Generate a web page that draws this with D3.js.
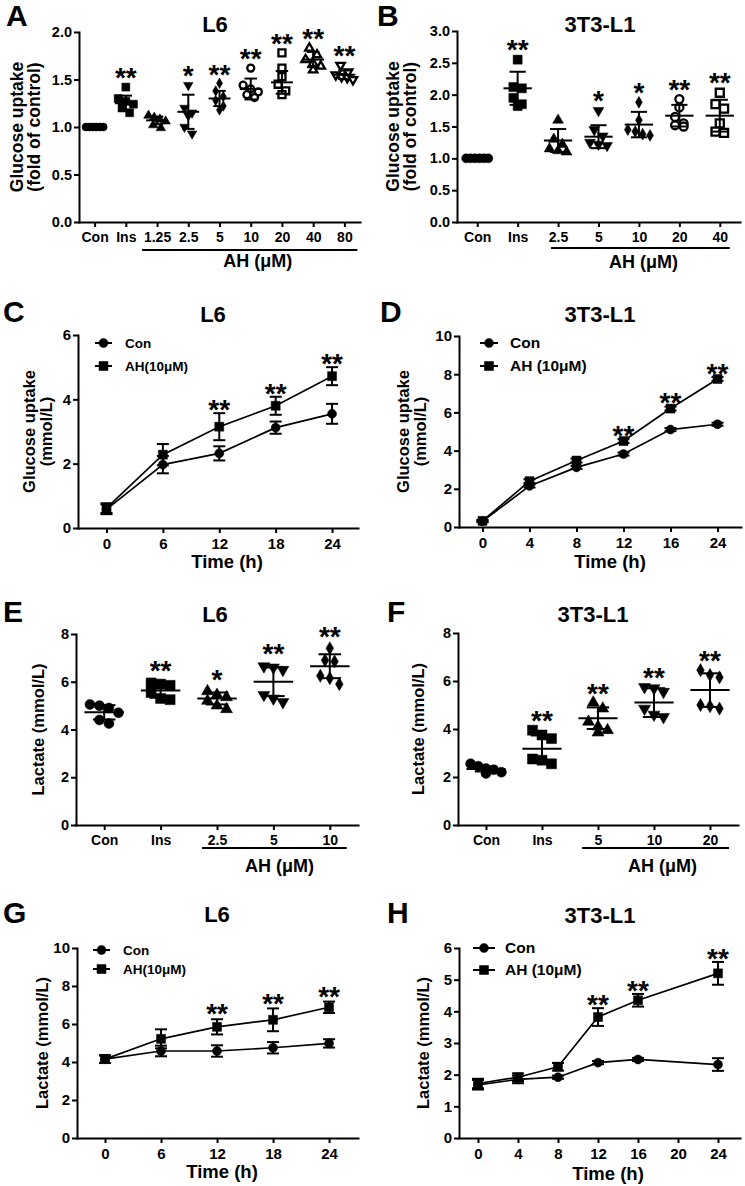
<!DOCTYPE html>
<html><head><meta charset="utf-8">
<script src="https://cdn.jsdelivr.net/npm/d3@7"></script>
<style>
body{margin:0;background:#fff}
svg{display:block}
text{font-family:"Liberation Sans",Arial,Helvetica,sans-serif;font-weight:bold;fill:#000}
</style>
</head><body>
<svg id="c" width="745" height="1186"></svg>
<script>
// ---------------- DATA ----------------
// Panel A: L6 glucose uptake (fold of control)
const aCats = ["Con","Ins","1.25","2.5","5","10","20","40","80"];
const aPoints = [
  [1.0,1.0,1.0,1.0,1.0,1.0],
  [1.42,1.30,1.27,1.24,1.20,1.15],
  [1.12,1.10,1.08,1.06,1.02,0.99],
  [1.44,1.20,1.15,1.12,1.00,0.93],
  [1.46,1.38,1.32,1.28,1.22,1.18],
  [1.62,1.44,1.40,1.37,1.34,1.31],
  [1.78,1.62,1.53,1.45,1.38,1.34],
  [1.83,1.76,1.71,1.67,1.64,1.60],
  [1.65,1.58,1.55,1.53,1.52,1.50]
];
const aMean = [1.0,1.25,1.07,1.16,1.30,1.40,1.47,1.71,1.55];
const aSD = [0.005,0.08,0.04,0.18,0.08,0.11,0.12,0.08,0.045];
const aStars = ["","**","","*","**","**","**","**","**"];
const aYTicks = [0,0.5,1.0,1.5,2.0];

// Panel B: 3T3-L1 glucose uptake (fold of control)
const bCats = ["Con","Ins","2.5","5","10","20","40"];
const bPoints = [
  [1.0,1.0,1.0,1.0,1.0,1.0],
  [2.55,2.12,2.10,1.95,1.85,1.82],
  [1.60,1.30,1.22,1.15,1.12,1.10],
  [1.75,1.45,1.35,1.25,1.22,1.20],
  [1.88,1.60,1.45,1.42,1.38,1.36],
  [1.93,1.80,1.65,1.55,1.52,1.50],
  [2.03,1.85,1.78,1.55,1.42,1.40]
];
const bMean = [1.0,2.10,1.28,1.34,1.53,1.67,1.67];
const bSD = [0.005,0.26,0.18,0.18,0.20,0.17,0.25];
const bStars = ["","**","","*","*","**","**"];
const bYTicks = [0,0.5,1.0,1.5,2.0,2.5,3.0];

// Panel C: L6 glucose uptake time course (mmol/L)
const cTimes = [0,6,12,18,24];
const cConMean = [0.58,1.97,2.32,3.12,3.55];
const cConSD = [0.15,0.27,0.22,0.19,0.31];
const cAHMean = [0.62,2.28,3.15,3.80,4.72];
const cAHSD = [0.15,0.33,0.42,0.28,0.28];
const cStars = ["","","**","**","**"];
const cYTicks = [0,2,4,6];

// Panel D: 3T3-L1 glucose uptake time course (mmol/L)
const dTimes = [0,4,8,12,16,24];
const dConMean = [0.30,2.15,3.12,3.82,5.10,5.38];
const dConSD = [0.05,0.08,0.08,0.08,0.08,0.08];
const dAHMean = [0.32,2.40,3.48,4.50,6.20,7.75];
const dAHSD = [0.05,0.10,0.10,0.10,0.10,0.10];
const dStars = ["","","","**","**","**"];
const dYTicks = [0,2,4,6,8,10];

// Panel E: L6 lactate (mmol/L)
const eCats = ["Con","Ins","2.5","5","10"];
const ePoints = [
  [5.05,5.00,4.90,4.70,4.40,4.25],
  [5.95,5.90,5.85,5.55,5.30,5.25],
  [5.60,5.45,5.35,5.20,5.00,4.85],
  [6.65,6.60,6.50,5.45,5.30,5.15],
  [7.40,6.90,6.85,6.25,6.15,5.90]
];
const eMean = [4.72,5.63,5.30,6.00,6.65];
const eSD = [0.30,0.30,0.25,0.60,0.50];
const eStars = ["","**","*","**","**"];
const eYTicks = [0,2,4,6,8];

// Panel F: 3T3-L1 lactate (mmol/L)
const fCats = ["Con","Ins","5","10","20"];
const fPoints = [
  [2.55,2.45,2.35,2.30,2.20,2.15],
  [3.95,3.75,3.60,2.75,2.70,2.55],
  [5.10,4.85,4.30,4.10,3.95,3.85],
  [5.75,5.70,5.55,4.85,4.60,4.50],
  [6.45,6.25,6.15,5.00,4.95,4.85]
];
const fMean = [2.33,3.18,4.45,5.10,5.62];
const fSD = [0.10,0.55,0.45,0.60,0.70];
const fStars = ["","**","**","**","**"];
const fYTicks = [0,2,4,6,8];

// Panel G: L6 lactate time course (mmol/L)
const gTimes = [0,6,12,18,24];
const gConMean = [4.15,4.58,4.58,4.75,4.98];
const gConSD = [0.20,0.28,0.30,0.30,0.22];
const gAHMean = [4.15,5.22,5.85,6.22,6.88];
const gAHSD = [0.20,0.50,0.40,0.60,0.30];
const gStars = ["","","**","**","**"];
const gYTicks = [0,2,4,6,8,10];

// Panel H: 3T3-L1 lactate time course (mmol/L)
const hTimes = [0,4,8,12,16,24];
const hXTicks = [0,4,8,12,16,20,24];
const hConMean = [1.68,1.85,1.92,2.38,2.48,2.32];
const hConSD = [0.15,0.12,0.05,0.05,0.05,0.20];
const hAHMean = [1.72,1.92,2.25,3.82,4.35,5.20];
const hAHSD = [0.15,0.12,0.12,0.28,0.20,0.36];
const hStars = ["","","","**","**","**"];
const hYTicks = [0,1,2,3,4,5,6];

// ---------------- DRAWING ----------------
const svg = d3.select("#c");
const STAR_FS = 28;

function styleAxis(sel, fs){
  sel.attr("font-family",null).attr("font-size",null);
  sel.select(".domain").attr("stroke","#000").attr("stroke-width",2).attr("stroke-linecap","square");
  sel.selectAll(".tick line").attr("stroke","#000").attr("stroke-width",2);
  sel.selectAll(".tick text").attr("font-size",fs).attr("fill","#000");
}

function symbolPath(type, s){
  const base = type.replace("O","");
  let t, area;
  if(base==="circle"){t=d3.symbolCircle; area=Math.PI*(s/2)*(s/2);}
  else if(base==="square"){t=d3.symbolSquare; area=s*s;}
  else if(base==="tri"||base==="triDown"){t=d3.symbolTriangle; const a=s*1.2; area=Math.sqrt(3)/4*a*a;}
  else {t=d3.symbolDiamond; area=0.5*s*s;}
  return d3.symbol().type(t).size(area)();
}
function drawSym(g, type, cx, cy, s){
  const open = type.endsWith("O");
  const rot = type.startsWith("triDown") ? " rotate(180)" : "";
  g.append("path").attr("d", symbolPath(type, open ? s-1 : s))
    .attr("transform",`translate(${cx},${cy})${rot}`)
    .attr("fill", open ? "#fff" : "#000")
    .attr("stroke", "#000").attr("stroke-width", open ? 2.3 : 0.5);
}

// bin-based scatter layout (Prism-like column scatter)
function layoutColumn(vals, y, s, maxW){
  const pts = vals.map(v=>({v, py:y(v)})).sort((a,b)=>a.py-b.py);
  const bins = [];
  pts.forEach(p=>{
    const last = bins[bins.length-1];
    if(last && p.py - last[0].py < s*0.85) last.push(p); else bins.push([p]);
  });
  bins.forEach(b=>{
    const n=b.length;
    const sp = n>1 ? Math.min(s*0.95, maxW/(n-1)) : 0;
    b.forEach((p,j)=>{ p.dx = (j-(n-1)/2)*sp; });
  });
  return pts;
}

function header(cfg){
  svg.append("text").attr("x",cfg.letterX).attr("y",cfg.letterY).attr("font-size",30).text(cfg.letter);
  svg.append("text").attr("x",cfg.titleX).attr("y",cfg.titleY).attr("text-anchor","middle").attr("font-size",22).text(cfg.title);
  const cy = (cfg.yTop+cfg.yBot)/2;
  cfg.ylab.forEach((t,i)=>{
    svg.append("text").attr("transform",`translate(${cfg.ylabX[i]},${cy}) rotate(-90)`)
      .attr("text-anchor","middle").attr("dy","0.36em").attr("font-size",cfg.ylabFs).text(t);
  });
}

function star(g, txt, cx, cyCenter){
  if(!txt) return;
  g.append("text").attr("x",cx).attr("y",cyCenter + STAR_FS*0.58)
    .attr("text-anchor","middle").attr("font-size",STAR_FS).text(txt);
}

function scatterPanel(cfg, cats, pts, means, sds, stars, yTicks){
  header(cfg);
  const g = svg.append("g");
  const x = d3.scalePoint().domain(cats).range([cfg.x0,cfg.x1]).padding(0.5);
  const y = d3.scaleLinear().domain([0,yTicks[yTicks.length-1]]).range([cfg.yBot,cfg.yTop]);
  const step = x.step();
  const ya = g.append("g").attr("transform",`translate(${cfg.x0},0)`)
    .call(d3.axisLeft(y).tickValues(yTicks).tickFormat(cfg.yfmt).tickSize(5).tickSizeOuter(0).tickPadding(2));
  const xa = g.append("g").attr("transform",`translate(0,${cfg.yBot})`)
    .call(d3.axisBottom(x).tickSize(5).tickSizeOuter(0).tickPadding(5));
  styleAxis(ya, 14.5); styleAxis(xa, cfg.tickFs);

  cats.forEach((c,i)=>{
    const cx = x(c);
    const lay = layoutColumn(pts[i], y, cfg.ms, step*0.55);
    lay.forEach(p=> drawSym(g, cfg.sym[i], cx+p.dx, p.py, cfg.ms));
    const m = means[i], sd = sds[i];
    const hw = step*0.35, cw = step*0.2;
    g.append("line").attr("x1",cx-hw).attr("x2",cx+hw).attr("y1",y(m)).attr("y2",y(m)).attr("stroke","#000").attr("stroke-width",2);
    g.append("line").attr("x1",cx).attr("x2",cx).attr("y1",y(m-sd)).attr("y2",y(m+sd)).attr("stroke","#000").attr("stroke-width",2);
    [m-sd,m+sd].forEach(v=> g.append("line").attr("x1",cx-cw).attr("x2",cx+cw).attr("y1",y(v)).attr("y2",y(v)).attr("stroke","#000").attr("stroke-width",2));
    const top = Math.min(y(d3.max(pts[i]))-cfg.ms/2, y(m+sd));
    star(g, stars[i], cx, top - cfg.starGap);
  });
  // AH underline
  const first = cats[cfg.ulFrom], last = cats[cats.length-1];
  const ux0 = x(first)-cfg.ulPad[0], ux1 = x(last)+cfg.ulPad[1];
  g.append("line").attr("x1",ux0).attr("x2",ux1).attr("y1",cfg.yBot+cfg.ulDy).attr("y2",cfg.yBot+cfg.ulDy).attr("stroke","#000").attr("stroke-width",2);
  g.append("text").attr("x",(ux0+ux1)/2+cfg.ahDx).attr("y",cfg.yBot+cfg.ahDy).attr("text-anchor","middle").attr("font-size",18).text("AH (μM)");
}

function linePanel(cfg, times, conM, conS, ahM, ahS, stars, yTicks){
  header(cfg);
  const g = svg.append("g");
  let x, xf;
  if(cfg.xType==="point"){
    x = d3.scalePoint().domain(times.map(String)).range([cfg.x0,cfg.x1]).padding(0.5);
    xf = t=>x(String(t));
  } else {
    x = d3.scaleLinear().domain(cfg.xDomain).range([cfg.x0,cfg.x1]);
    xf = t=>x(t);
  }
  const y = d3.scaleLinear().domain([0,yTicks[yTicks.length-1]]).range([cfg.yBot,cfg.yTop]);
  const ya = g.append("g").attr("transform",`translate(${cfg.x0},0)`)
    .call(d3.axisLeft(y).tickValues(yTicks).tickFormat(d3.format("d")).tickSize(5).tickSizeOuter(0).tickPadding(2));
  const xAxis = d3.axisBottom(x).tickSize(5).tickSizeOuter(0).tickPadding(5);
  if(cfg.xType!=="point") xAxis.tickValues(cfg.xTicks).tickFormat(d3.format("d"));
  const xa = g.append("g").attr("transform",`translate(0,${cfg.yBot})`).call(xAxis);
  styleAxis(ya, cfg.tickFs); styleAxis(xa, cfg.tickFs);

  const series = [
    {m:conM, s:conS, sym:"circle"},
    {m:ahM, s:ahS, sym:"square"}
  ];
  const line = d3.line().x((d,i)=>xf(times[i])).y(d=>y(d));
  series.forEach(se=>{
    g.append("path").attr("d", line(se.m)).attr("fill","none").attr("stroke","#000").attr("stroke-width",1.7);
  });
  series.forEach(se=>{
    se.m.forEach((m,i)=>{
      const cx = xf(times[i]), sd = se.s[i];
      g.append("line").attr("x1",cx).attr("x2",cx).attr("y1",y(m-sd)).attr("y2",y(m+sd)).attr("stroke","#000").attr("stroke-width",2);
      [m-sd,m+sd].forEach(v=> g.append("line").attr("x1",cx-6).attr("x2",cx+6).attr("y1",y(v)).attr("y2",y(v)).attr("stroke","#000").attr("stroke-width",2));
      drawSym(g, se.sym, cx, y(m), cfg.ms);
    });
  });
  times.forEach((t,i)=>{
    const top = Math.min(y(ahM[i]+ahS[i]), y(ahM[i])-cfg.ms/2);
    star(g, stars[i], xf(t), top - cfg.starGap);
  });
  // legend
  cfg.legend.forEach((lab,i)=>{
    const ly = cfg.legY[i];
    g.append("line").attr("x1",cfg.legX[0]).attr("x2",cfg.legX[1]).attr("y1",ly).attr("y2",ly).attr("stroke","#000").attr("stroke-width",2);
    drawSym(g, series[i].sym, (cfg.legX[0]+cfg.legX[1])/2, ly, cfg.ms);
    g.append("text").attr("x",cfg.legX[2]).attr("y",ly).attr("dy","0.35em").attr("font-size",cfg.legFs).text(lab);
  });
  g.append("text").attr("x",cfg.timeX).attr("y",cfg.yBot+cfg.timeDy).attr("text-anchor","middle").attr("font-size",18.5).text("Time (h)");
}

const f1 = d3.format(".1f"), f0 = d3.format("d");

scatterPanel({letter:"A",letterX:6,letterY:26,title:"L6",titleX:215,titleY:32,
  ylab:["Glucose uptake","(fold of control)"],ylabX:[17,34],ylabFs:17.5,
  x0:79,x1:360,yTop:32,yBot:222,yfmt:f1,tickFs:14,ms:8,starGap:12,
  sym:["circle","square","tri","triDown","diamond","circleO","squareO","triO","triDownO"],
  ulFrom:2,ulPad:[15,13],ulDy:28,ahDx:8,ahDy:45}, aCats,aPoints,aMean,aSD,aStars,aYTicks);

scatterPanel({letter:"B",letterX:377,letterY:26,title:"3T3-L1",titleX:600,titleY:32,
  ylab:["Glucose uptake","(fold of control)"],ylabX:[393,410],ylabFs:17.5,
  x0:457,x1:740,yTop:31,yBot:222,yfmt:f1,tickFs:14,ms:9,starGap:12,
  sym:["circle","square","tri","triDown","diamond","circleO","squareO"],
  ulFrom:2,ulPad:[7,10],ulDy:26,ahDx:3,ahDy:46}, bCats,bPoints,bMean,bSD,bStars,bYTicks);

linePanel({letter:"C",letterX:3,letterY:322,title:"L6",titleX:213,titleY:322,
  ylab:["Glucose uptake","(mmol/L)"],ylabX:[29,46],ylabFs:16.5,
  x0:78,x1:358,yTop:335,yBot:528,xType:"linear",xDomain:[-3.03,26.76],xTicks:cTimes,tickFs:15,ms:9,starGap:10,
  legend:["Con","AH(10μM)"],legY:[343,366],legX:[95,112,125],legFs:13.5,timeX:227,timeDy:40},
  cTimes,cConMean,cConSD,cAHMean,cAHSD,cStars,cYTicks);

linePanel({letter:"D",letterX:380,letterY:322,title:"3T3-L1",titleX:600,titleY:322,
  ylab:["Glucose uptake","(mmol/L)"],ylabX:[403,420],ylabFs:16.5,
  x0:459,x1:741,yTop:336,yBot:527,xType:"point",tickFs:15,ms:9,starGap:8,
  legend:["Con","AH (10μM)"],legY:[343,366],legX:[480,498,510],legFs:15.5,timeX:610,timeDy:41},
  dTimes,dConMean,dConSD,dAHMean,dAHSD,dStars,dYTicks);

scatterPanel({letter:"E",letterX:3,letterY:622,title:"L6",titleX:215,titleY:622,
  ylab:["Lactate (mmol/L)"],ylabX:[38],ylabFs:16.5,
  x0:76,x1:358,yTop:634,yBot:825,yfmt:f0,tickFs:14,ms:10,starGap:14,
  sym:["circle","square","tri","triDown","diamond"],
  ulFrom:2,ulPad:[15,17],ulDy:23,ahDx:5,ahDy:47}, eCats,ePoints,eMean,eSD,eStars,eYTicks);

scatterPanel({letter:"F",letterX:387,letterY:622,title:"3T3-L1",titleX:593,titleY:622,
  ylab:["Lactate (mmol/L)"],ylabX:[418],ylabFs:16.5,
  x0:458,x1:738,yTop:633,yBot:825,yfmt:f0,tickFs:14,ms:10,starGap:11,
  sym:["circle","square","tri","triDown","diamond"],
  ulFrom:2,ulPad:[16,19],ulDy:23,ahDx:7,ahDy:47}, fCats,fPoints,fMean,fSD,fStars,fYTicks);

linePanel({letter:"G",letterX:3,letterY:923,title:"L6",titleX:217,titleY:922,
  ylab:["Lactate (mmol/L)"],ylabX:[42],ylabFs:16.5,
  x0:77,x1:358,yTop:948,yBot:1138,xType:"linear",xDomain:[-3.0,27.1],xTicks:gTimes,tickFs:15,ms:9,starGap:12,
  legend:["Con","AH(10μM)"],legY:[950,969],legX:[93,110,123],legFs:13.5,timeX:222,timeDy:40},
  gTimes,gConMean,gConSD,gAHMean,gAHSD,gStars,gYTicks);

linePanel({letter:"H",letterX:387,letterY:923,title:"3T3-L1",titleX:600,titleY:923,
  ylab:["Lactate (mmol/L)"],ylabX:[423],ylabFs:16.5,
  x0:459,x1:740,yTop:948,yBot:1138,xType:"linear",xDomain:[-1.9,26.2],xTicks:hXTicks,tickFs:15,ms:9,starGap:10,
  legend:["Con","AH (10μM)"],legY:[948,970],legX:[473,495,505],legFs:15.5,timeX:608,timeDy:42},
  hTimes,hConMean,hConSD,hAHMean,hAHSD,hStars,hYTicks);
</script>
</body></html>
